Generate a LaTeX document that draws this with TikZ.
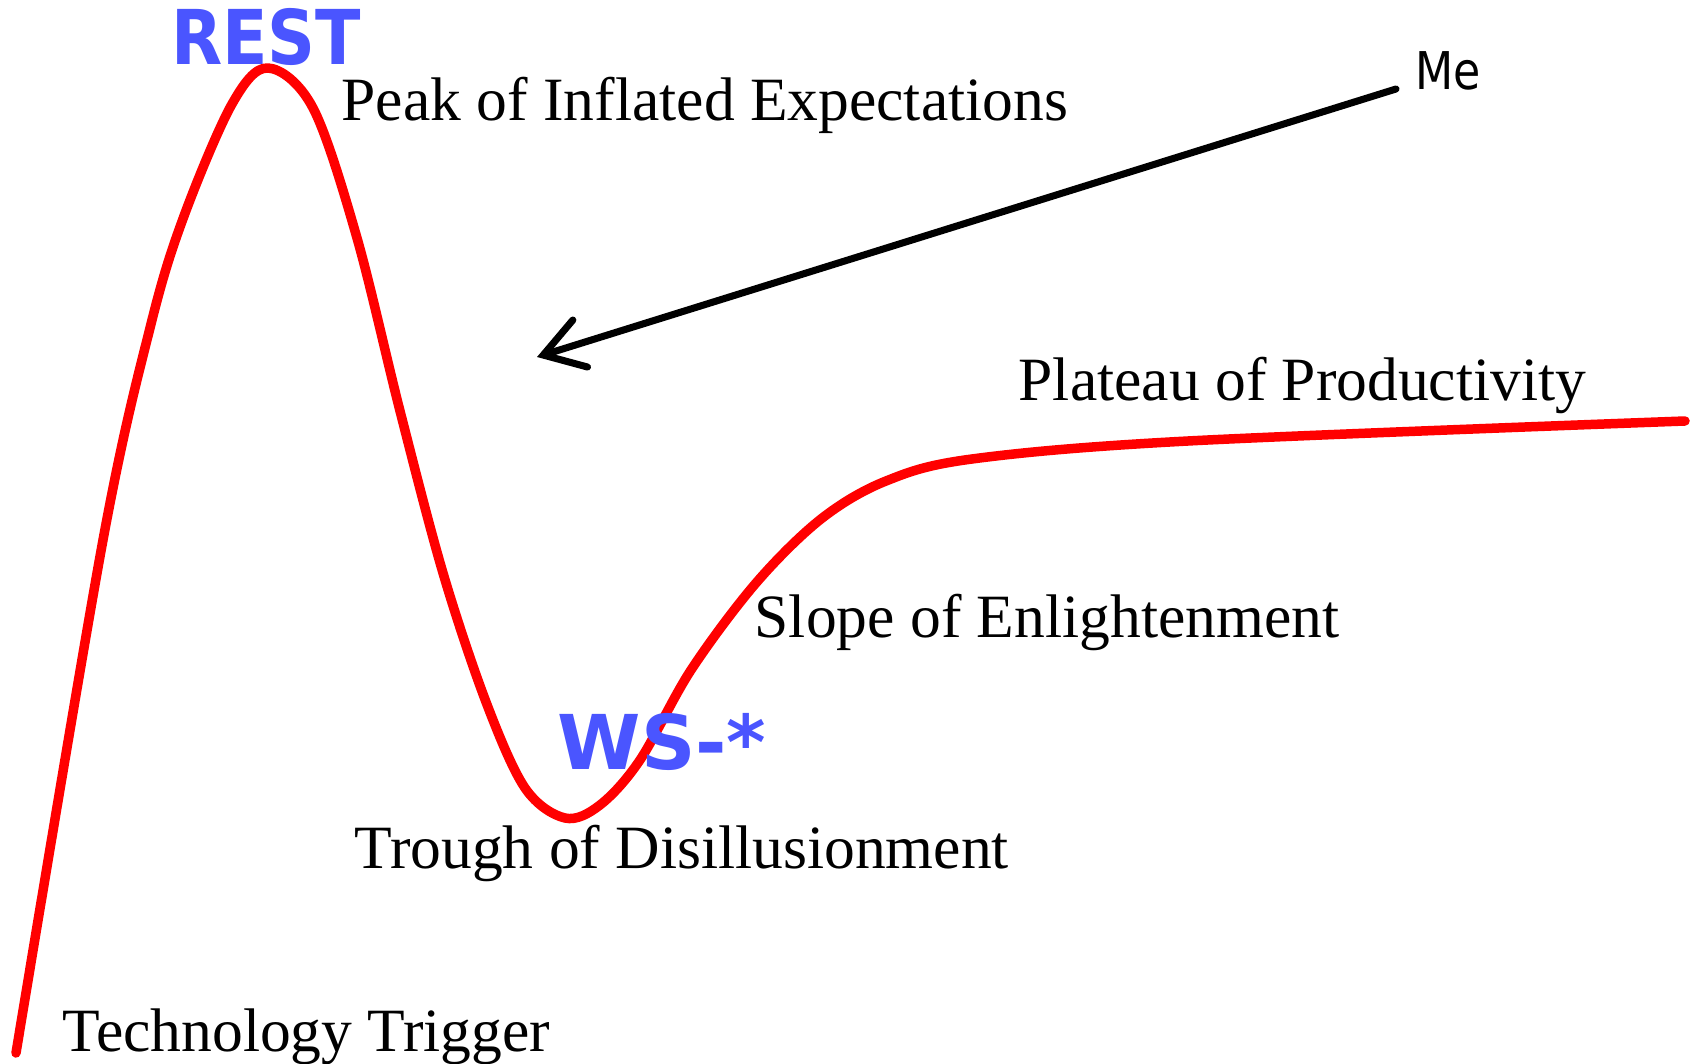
\documentclass[tikz,border=0pt]{standalone}
\usepackage{fontspec}
\setmainfont{Liberation Serif}
\newfontfamily\hypesans{DejaVu Sans}
\usepackage{tikz}
\usetikzlibrary{arrows.meta}
\definecolor{hypeblue}{RGB}{74,85,255}
\tikzset{
  hypeline/.style  = {red,line width=2.7pt,line cap=round,line join=round},
  phaselabel/.style = {anchor=base west,inner sep=0pt,font=\fontsize{17.5}{20}\selectfont},
  techlabel/.style = {anchor=base,inner sep=0pt,text=hypeblue,font=\hypesans\bfseries\fontsize{21.5}{24}\selectfont},
  pointarr/.style  = {-{Straight Barb[length=11pt,width=14pt,line cap=round]},line width=2pt,line cap=round}
}

\begin{document}
\begin{tikzpicture}[x=0.01cm,y=-0.01cm]
  \useasboundingbox (0,0) rectangle (1694,1064);
  % the hype curve, traced through the reference points
  \draw[hypeline] plot[smooth,tension=0.55] coordinates {
        (16,1053) (103,540) (151,324) (184,216) (232,104) (268,68)
        (313,108) (357,238) (400,411) (443,573) (486,702) (525,788)
        (565,818) (600,805) (640,760) (691,670) (756,583) (821,519)
        (886,481) (972,459) (1188,441) (1685,421)};
  \node[phaselabel] (peak)    at (341,121)  {Peak of Inflated Expectations};
  \node[phaselabel] (plateau) at (1018,400) {Plateau of Productivity};
  \node[phaselabel] (slope)   at (754,637)  {Slope of Enlightenment};
  \node[phaselabel] (trough)  at (354,868)  {Trough of Disillusionment};
  \node[phaselabel] (trigger) at (62,1051)  {Technology Trigger};
  \node[techlabel,xscale=0.88] (rest) at (266,65)  {REST};
  \node[techlabel] (ws)   at (662,769) {WS-*};
  \node[anchor=base west,inner sep=0pt,xscale=0.85,font=\hypesans\fontsize{14.8}{17}\selectfont]
        (me) at (1415,90) {Me};
  \coordinate (metail) at (1396,89);
  \coordinate (aim)    at (537,357);
  \draw[pointarr] (metail) -- (aim);
\end{tikzpicture}
\end{document}
